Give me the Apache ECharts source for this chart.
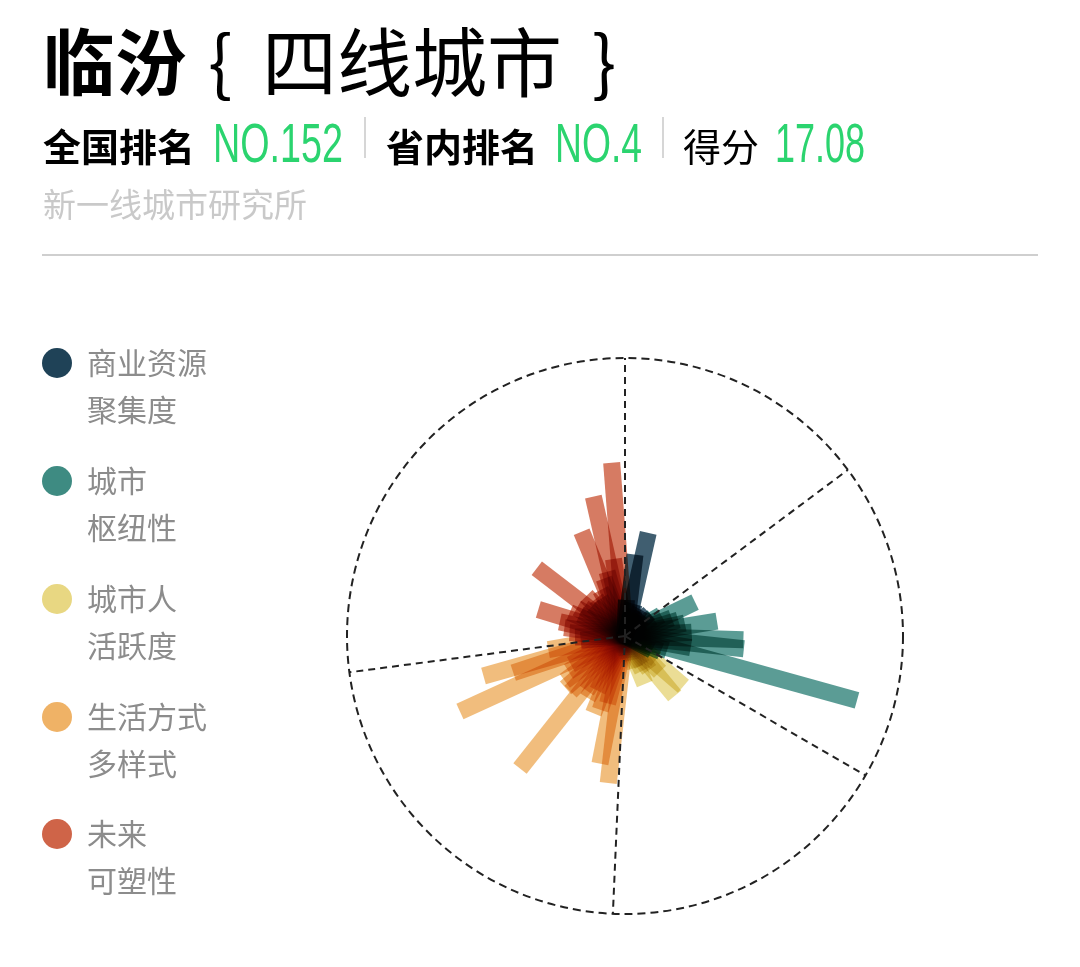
<!DOCTYPE html>
<html>
<head>
<meta charset="utf-8">
<script src="https://cdn.jsdelivr.net/npm/echarts@6/dist/echarts.min.js"></script>
<style>
html,body{margin:0;padding:0;background:#fff;}
#chart{width:1080px;height:967px;}
</style>
</head>
<body>
<div id="chart"></div>
<script>
// ---------------- DATA ----------------
const cityName = '临汾';
const cityTier = '四线城市';
const nationalRank = 'NO.152';
const provinceRank = 'NO.4';
const score = '17.08';
const source = '新一线城市研究所';

const dimensionNames = ['商业资源聚集度', '城市枢纽性', '城市人活跃度', '生活方式多样式', '未来可塑性'];
const legendLine1 = ['商业资源', '城市', '城市人', '生活方式', '未来'];
const legendLine2 = ['聚集度', '枢纽性', '活跃度', '多样式', '可塑性'];

// bar directions (degrees, counter-clockwise from east) and lengths (circle = 100)
const commerceAngles = [87.8, 83.0, 77.3, 74.4, 70.0, 65.6, 61.1, 56.7, 52.2, 47.8, 43.3, 38.9];
const commerceValues = [13, 29.5, 38, 12, 10, 9, 11, 8, 10, 9, 12, 8];

const hubAngles = [34.4, 30.0, 25.8, 21.1, 16.7, 12.2, 9.2, 3.3, -1.8, -6.1, -10.0, -15.5, -18.9, -23.3, -27.8];
const hubValues = [12, 15, 28, 18, 20, 22, 33.5, 24, 42.6, 43, 24, 86.6, 16, 14, 11];

const activityAngles = [-32.2, -36.7, -40.7, -45.6, -50.3, -54.4, -58.9, -63.3, -67.6, -72.2, -76.7, -81.1, -85.6, -90.0];
const activityValues = [10, 14, 27.7, 18, 28, 15, 12, 14, 18.7, 12, 9, 8, 7, 6];

const lifestyleAngles = [263.5, 258.9, 255.5, 251.5, 247.8, 243.3, 238.9, 235.0, 231.6, 225.6, 221.1, 216.7, 212.2, 207.8, 204.6, 198.2, 195.8, 190.0];
const lifestyleValues = [53.2, 46.8, 25, 28, 30, 22, 26, 24, 60.8, 28, 28.4, 27, 24, 22, 65.3, 42.3, 52.9, 28];

const futureAngles = [185.6, 181.1, 176.7, 172.2, 167.8, 163.0, 157.0, 154.4, 150.0, 145.6, 142.5, 136.7, 134.0, 127.8, 123.3, 118.0, 112.6, 110.0, 105.6, 102.8, 98.5, 94.4];
const futureValues = [16, 18, 20, 22, 24, 32.6, 21.6, 18, 20, 18, 40, 16, 20, 17, 16, 18.7, 40.6, 22, 24, 51.4, 28, 62.5];

// sector boundary directions (degrees)
const sectorBounds = [90, 36.7, -30.1, -92.5, 187.5];

// ---------------- STYLE ----------------
const colors = ['#1f4257', '#3e8b82', '#e8d782', '#efb266', '#cf6448'];
const GREEN = '#2bd46f';
const CJK = '"Noto Sans CJK SC", "Noto Sans", sans-serif';
const NUMF = '"Liberation Sans Narrow", "Liberation Sans", "DejaVu Sans Condensed", sans-serif';

const groups = [
  [commerceAngles, commerceValues],
  [hubAngles, hubValues],
  [activityAngles, activityValues],
  [lifestyleAngles, lifestyleValues],
  [futureAngles, futureValues]
];

function norm(a) { return ((a % 360) + 360) % 360; }

const HALF_W = 8.5;
function barRenderer(color) {
  return function (params, api) {
    const v = api.value(0), a = api.value(1);
    const p0 = api.coord([0, a]);
    const p1 = api.coord([v, a]);
    const dx = p1[0] - p0[0], dy = p1[1] - p0[1];
    const L = Math.hypot(dx, dy) || 1;
    const nx = -dy / L * HALF_W, ny = dx / L * HALF_W;
    return {
      type: 'polygon',
      shape: { points: [
        [p0[0] + nx, p0[1] + ny], [p1[0] + nx, p1[1] + ny],
        [p1[0] - nx, p1[1] - ny], [p0[0] - nx, p0[1] - ny]
      ] },
      style: { fill: color, opacity: 0.85, blend: 'multiply' }
    };
  };
}

const series = groups.map(function (g, k) {
  return {
    type: 'custom',
    name: dimensionNames[k],
    coordinateSystem: 'polar',
    data: g[0].map(function (a, i) { return [g[1][i], norm(a)]; }),
    renderItem: barRenderer(colors[k]),
    silent: true,
    z: 2
  };
});

series.push({
  type: 'custom',
  coordinateSystem: 'polar',
  data: sectorBounds.map(function (a) { return [100, norm(a)]; }),
  renderItem: function (params, api) {
    const a = api.value(1);
    const p0 = api.coord([0, a]);
    const p1 = api.coord([api.value(0), a]);
    return {
      type: 'line',
      shape: { x1: p0[0], y1: p0[1], x2: p1[0], y2: p1[1] },
      style: { stroke: '#222', lineWidth: 2, lineDash: [7, 5] }
    };
  },
  silent: true,
  z: 5
});

// text measuring for condensed numerals
const mctx = document.createElement('canvas').getContext('2d');
function measure(text, font) { mctx.font = font; return mctx.measureText(text).width; }
function numText(text, x, y, targetW) {
  const font = '56px ' + NUMF;
  const w = measure(text, font);
  return { type: 'text', x: x, y: y, scaleX: targetW / w, scaleY: 1,
    style: { text: text, font: font, fill: GREEN, align: 'left', verticalAlign: 'middle' } };
}
function txt(text, x, y, font, fill) {
  return { type: 'text', x: x, y: y,
    style: { text: text, font: font, fill: fill, align: 'left', verticalAlign: 'middle' } };
}

const graphics = [
  txt(cityName, 43, 62, 'bold 72px ' + CJK, '#000'),
  txt('{', 208, 62, '72px ' + CJK, '#000'),
  txt(cityTier, 262, 62, '75px ' + CJK, '#000'),
  txt('}', 592, 62, '72px ' + CJK, '#000'),
  txt('全国排名', 43, 147, 'bold 38px ' + CJK, '#000'),
  numText(nationalRank, 213, 147, 130),
  { type: 'line', shape: { x1: 365, y1: 117, x2: 365, y2: 158 }, style: { stroke: '#c8c8c8', lineWidth: 1.5 } },
  txt('省内排名', 386, 147, 'bold 38px ' + CJK, '#000'),
  numText(provinceRank, 555, 147, 87),
  { type: 'line', shape: { x1: 663, y1: 117, x2: 663, y2: 158 }, style: { stroke: '#c8c8c8', lineWidth: 1.5 } },
  txt('得分', 683, 147, '38px ' + CJK, '#000'),
  numText(score, 775, 147, 90),
  txt(source, 43, 204, '33px ' + CJK, '#c9c9c9'),
  { type: 'line', shape: { x1: 42, y1: 255, x2: 1038, y2: 255 }, style: { stroke: '#cfcfcf', lineWidth: 2 } }
];
const legendY = [363, 481, 599, 717, 834];
for (let k = 0; k < 5; k++) {
  graphics.push({ type: 'circle', shape: { cx: 57, cy: legendY[k], r: 15 }, style: { fill: colors[k] } });
  graphics.push(txt(legendLine1[k], 87, legendY[k], '30px ' + CJK, '#8c8c8c'));
  graphics.push(txt(legendLine2[k], 87, legendY[k] + 47, '30px ' + CJK, '#8c8c8c'));
}

const chart = echarts.init(document.getElementById('chart'), null, { renderer: 'canvas' });
chart.setOption({
  animation: false,
  backgroundColor: '#fff',
  polar: { center: [625, 636], radius: 278 },
  angleAxis: {
    type: 'value', min: 0, max: 360, startAngle: 0, clockwise: false,
    axisLine: { show: true, lineStyle: { color: '#222', width: 2, type: [8, 5] } },
    axisTick: { show: false }, axisLabel: { show: false }, splitLine: { show: false }
  },
  radiusAxis: {
    type: 'value', min: 0, max: 100,
    axisLine: { show: false }, axisTick: { show: false }, axisLabel: { show: false }, splitLine: { show: false }
  },
  graphic: graphics,
  series: series
});

// make overlapping bars multiply (darkening toward the centre, as in the original)
function applyBlend() {
  const zr = chart.getZr();
  zr.storage.getDisplayList(true).forEach(function (el) {
    if (el.type === 'polygon' && el.style) {
      el.style.blend = 'multiply';
      el.markRedraw();
    }
  });
  zr.refreshImmediately();
}
applyBlend();
chart.on('finished', function () {
  const zr = chart.getZr();
  let need = false;
  zr.storage.getDisplayList(true).forEach(function (el) {
    if (el.type === 'polygon' && el.style && el.style.blend !== 'multiply') need = true;
  });
  if (need) applyBlend();
});
</script>
</body>
</html>
